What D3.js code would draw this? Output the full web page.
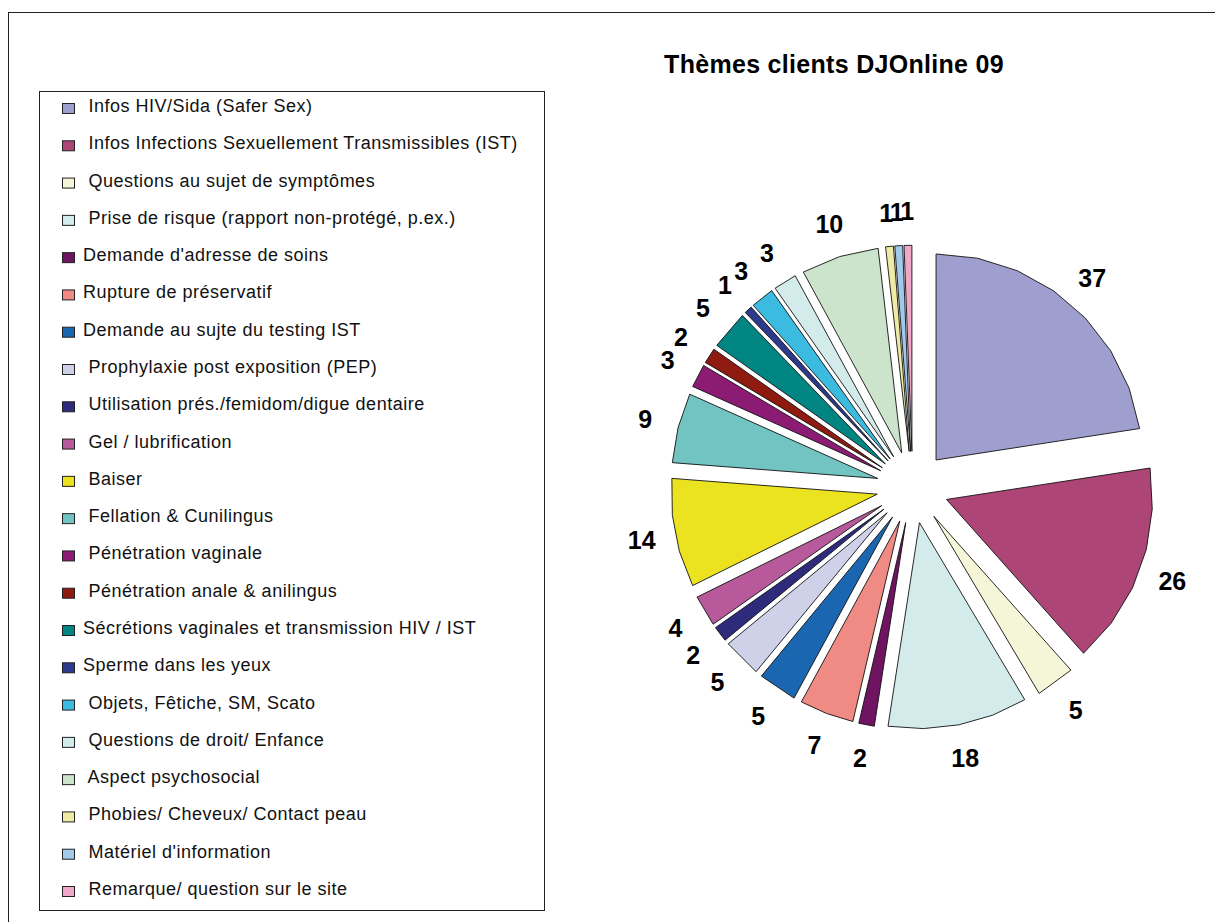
<!DOCTYPE html>
<html>
<head>
<meta charset="utf-8">
<script src="https://cdn.jsdelivr.net/npm/d3@7"></script>
<style>
  body { margin: 0; background: #fff; }
  svg { display: block; font-family: "Liberation Sans", Arial, sans-serif; }
</style>
</head>
<body>
<div id="chart"></div>
<script>
// Categories (leading space kept where the original legend text is indented)
const categories = [
    " Infos HIV/Sida (Safer Sex)",
    " Infos Infections Sexuellement Transmissibles (IST)",
    " Questions au sujet de symptômes",
    " Prise de risque (rapport non-protégé, p.ex.)",
    "Demande d'adresse de soins",
    "Rupture de préservatif",
    "Demande au sujte du testing IST",
    " Prophylaxie post exposition (PEP)",
    " Utilisation prés./femidom/digue dentaire",
    " Gel / lubrification",
    " Baiser",
    " Fellation & Cunilingus",
    " Pénétration vaginale",
    " Pénétration anale & anilingus",
    "Sécrétions vaginales et transmission HIV / IST",
    "Sperme dans les yeux",
    " Objets, Fêtiche, SM, Scato",
    " Questions de droit/ Enfance",
    " Aspect psychosocial",
    " Phobies/ Cheveux/ Contact peau",
    " Matériel d'information",
    " Remarque/ question sur le site"
];

const values = [37, 26, 5, 18, 2, 7, 5, 5, 2, 4, 14, 9, 3, 2, 5, 1, 3, 3, 10, 1, 1, 1];

const colors = [
    "#9f9fcf", "#ad4577", "#f5f5d8", "#d3ebeb", "#6f1460", "#ef8a85",
    "#1a66b0", "#cfd1e8", "#2e2b7c", "#b8599c", "#ebe220", "#72c4c2",
    "#8c1b74", "#8e1a10", "#008583", "#2d3a8c", "#3cbbe0", "#d4ebeb",
    "#cde4cc", "#eeeca4", "#a2c8ec", "#f0a8c8"
];

const title = "Thèmes clients DJOnline 09";

const width = 1215, height = 922;

const svg = d3.select("#chart").append("svg")
    .attr("width", width)
    .attr("height", height);

// outer frame (runs off the right and bottom edges)
svg.append("rect")
    .attr("x", 8.5).attr("y", 12.5)
    .attr("width", 1400).attr("height", 1000)
    .attr("fill", "none")
    .attr("stroke", "#222");

// title
svg.append("text")
    .attr("x", 834).attr("y", 73)
    .attr("text-anchor", "middle")
    .attr("font-size", 25)
    .attr("font-weight", "bold")
    .attr("letter-spacing", 0.3)
    .text(title);

// legend
const legend = svg.append("g");
legend.append("rect")
    .attr("x", 39.5).attr("y", 91.5)
    .attr("width", 505).attr("height", 819)
    .attr("fill", "none")
    .attr("stroke", "#222");

const rowY = d3.scalePoint()
    .domain(d3.range(categories.length))
    .range([112, 895]);

const rows = legend.selectAll("g.row")
    .data(categories)
    .enter().append("g")
    .attr("class", "row")
    .attr("transform", (d, i) => `translate(0,${rowY(i)})`);

rows.append("rect")
    .attr("x", 62.5).attr("y", -8.5)
    .attr("width", 12).attr("height", 10)
    .attr("fill", (d, i) => colors[i])
    .attr("stroke", "#222")
    .attr("stroke-width", 1);

rows.append("text")
    .attr("x", 83)
    .attr("font-size", 18)
    .attr("letter-spacing", 0.5)
    .attr("fill", "#111")
    .style("white-space", "pre")
    .text(d => d);

// pie
const cx = 912.6, cy = 487.3;
const radius = 206, explode = 36, labelRadius = 276;
const step = 12 * Math.PI / 180;

const pie = d3.pie().sort(null).value(d => d);
const arcs = pie(values);

function slicePath(d) {
    const span = d.endAngle - d.startAngle;
    const n = Math.max(1, Math.ceil(span / step));
    const pts = [[0, 0]];
    for (let i = 0; i <= n; i++) {
        pts.push(d3.pointRadial(d.startAngle + span * i / n, radius));
    }
    return d3.line()(pts) + "Z";
}

const pieG = svg.append("g")
    .attr("transform", `translate(${cx},${cy})`);

pieG.selectAll("path")
    .data(arcs)
    .enter().append("path")
    .attr("transform", d => {
        const p = d3.pointRadial((d.startAngle + d.endAngle) / 2, explode);
        return `translate(${p[0]},${p[1]})`;
    })
    .attr("d", slicePath)
    .attr("fill", (d, i) => colors[i])
    .attr("stroke", "#111")
    .attr("stroke-width", 0.9)
    .attr("stroke-linejoin", "miter");

pieG.selectAll("text.lbl")
    .data(arcs)
    .enter().append("text")
    .attr("class", "lbl")
    .attr("transform", d => {
        const p = d3.pointRadial((d.startAngle + d.endAngle) / 2, labelRadius);
        return `translate(${p[0]},${p[1]})`;
    })
    .attr("text-anchor", "middle")
    .attr("dy", "0.36em")
    .attr("font-size", 25)
    .attr("font-weight", "bold")
    .text(d => d.data);
</script>
</body>
</html>
